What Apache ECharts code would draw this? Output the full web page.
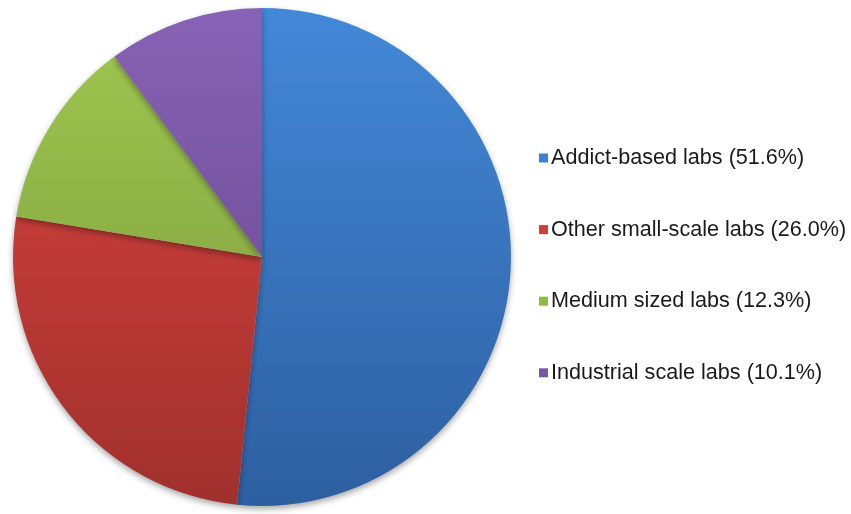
<!DOCTYPE html>
<html>
<head>
<meta charset="utf-8">
<style>
  html, body { margin: 0; padding: 0; background: #fff; }
  #chart { width: 851px; height: 514px; }
</style>
<script src="https://cdn.jsdelivr.net/npm/echarts@6/dist/echarts.min.js"></script>
</head>
<body>
<div id="chart"></div>
<script>
// Share of labs by type (percent)
const categories = ['Addict-based labs', 'Other small-scale labs', 'Medium sized labs', 'Industrial scale labs'];
const shares = [51.6, 26.0, 12.3, 10.1];

// Top / bottom colours of each wedge's vertical shading, plus flat legend swatches
const topColors = ['#4388d8', '#dc4440', '#a0c850', '#8862b4'];
const bottomColors = ['#2d5fa0', '#a0302c', '#76963a', '#62448c'];
const swatchColors = ['#3f7fcf', '#cf3f3c', '#8fba44', '#7656a6'];

const chart = echarts.init(document.getElementById('chart'));

function shade(i) {
  return new echarts.graphic.LinearGradient(0, 9, 0, 506, [
    { offset: 0, color: topColors[i] },
    { offset: 1, color: bottomColors[i] }
  ], true);
}

const data = categories.map((name, i) => ({
  name: name,
  value: shares[i],
  itemStyle: { color: shade(i) }
}));

const valueOf = {};
categories.forEach((c, i) => { valueOf[c] = shares[i]; });

chart.setOption({
  animation: false,
  legend: {
    orient: 'vertical',
    left: 534,
    top: 141,
    padding: 5,
    itemWidth: 9,
    itemHeight: 9,
    itemGap: 47.6,
    icon: 'rect',
    data: categories.map((c, i) => ({ name: c, itemStyle: { color: swatchColors[i] } })),
    formatter: name => name + ' (' + valueOf[name].toFixed(1) + '%)',
    textStyle: {
      fontFamily: 'Liberation Sans, Arial, sans-serif',
      fontSize: 21.6,
      lineHeight: 24,
      color: '#1a1a1a',
      padding: [0, 0, 0, -2]
    }
  },
  series: [{
    type: 'pie',
    center: [262, 257],
    radius: [0, 249],
    startAngle: 90,
    clockwise: true,
    label: { show: false },
    labelLine: { show: false },
    emphasis: { disabled: true },
    itemStyle: {
      borderWidth: 0,
      shadowColor: 'rgba(0,0,0,0.35)',
      shadowBlur: 6,
      shadowOffsetY: 3
    },
    data: data
  }]
});
</script>
</body>
</html>
